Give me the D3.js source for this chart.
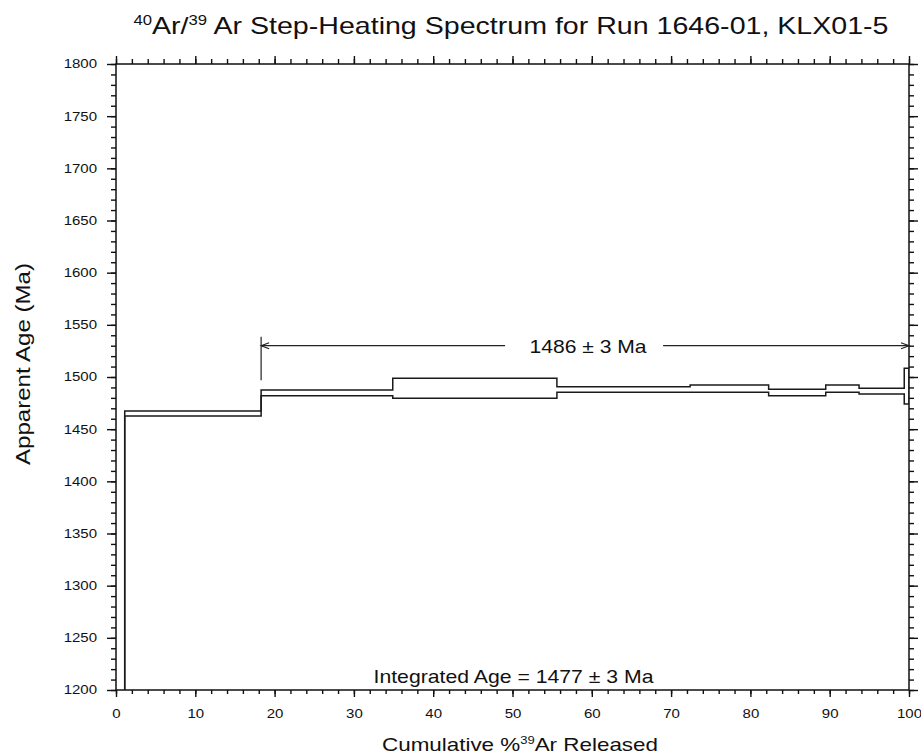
<!DOCTYPE html>
<html>
<head>
<meta charset="utf-8">
<script src="https://cdn.jsdelivr.net/npm/d3@7"></script>
<style>
  body { margin: 0; background: #fff; }
  text { font-family: "Liberation Sans", Arial, Helvetica, sans-serif; fill: #111; }
</style>
</head>
<body>
<div id="chart"></div>
<script>
// cumulative % 39Ar at the step boundaries
var cumBounds = [0, 1.1, 18.3, 34.9, 55.6, 72.4, 82.3, 89.5, 93.7, 99.4, 100];
// apparent age of each step (Ma) and its error (Ma)
var stepAges = [1150, 1465.0, 1484.8, 1489.2, 1488.0, 1488.8, 1485.2, 1488.8, 1486.5, 1491.2];
var stepErrs = [20, 2.4, 2.7, 9.6, 2.7, 3.5, 3.1, 3.5, 2.7, 17.1];

var plateauRange = [18.3, 100];
var plateauLabel = "1486 \u00b1 3 Ma";
var integratedLabel = "Integrated Age = 1477 \u00b1 3 Ma";

var xDomain = [0, 100], yDomain = [1200, 1800];
var xMajor = d3.range(0, 101, 10), xMinor = d3.range(0, 101, 2);
var yMajor = d3.range(1200, 1801, 50), yMinor = d3.range(1200, 1801, 10);

var W = 921, H = 756;
var margin = {top: 64, right: 12, bottom: 66, left: 116},
    width = W - margin.left - margin.right,
    height = H - margin.top - margin.bottom;
var stretch = 1.25;   // tick labels are drawn wide in the original

var svg = d3.select("#chart").append("svg")
    .attr("width", W)
    .attr("height", H);

var g = svg.append("g")
    .attr("transform", "translate(" + margin.left + "," + margin.top + ")");

var x = d3.scaleLinear().domain(xDomain).range([0, width]);
var y = d3.scaleLinear().domain(yDomain).range([height, 0]);

g.append("defs").append("clipPath")
    .attr("id", "clip")
  .append("rect")
    .attr("width", width)
    .attr("height", height);

// axes: minor ticks, then major ticks
function addAxis(axisFn, scale, vals, size, pos, labels) {
  var a = axisFn(scale).tickValues(vals).tickSize(size).tickSizeOuter(0);
  if (!labels) a.tickFormat("");
  else a.tickFormat(d3.format("d"));
  var ag = g.append("g").attr("transform", pos).call(a);
  ag.select(".domain").remove();
  ag.selectAll("line").attr("stroke", "#111").attr("stroke-width", 1.4);
  return ag;
}
var bottomPos = "translate(0," + height + ")", rightPos = "translate(" + width + ",0)";
addAxis(d3.axisBottom, x, xMinor, 4, bottomPos, false);
var xb = addAxis(d3.axisBottom, x, xMajor, 7, bottomPos, true);
addAxis(d3.axisTop, x, xMinor, 5, "", false);
addAxis(d3.axisTop, x, xMajor, 8, "", false);
addAxis(d3.axisLeft, y, yMinor, 5, "", false);
var yl = addAxis(d3.axisLeft, y, yMajor, 9, "", true);
addAxis(d3.axisRight, y, yMinor, 5, rightPos, false);
addAxis(d3.axisRight, y, yMajor, 9, rightPos, false);

xb.selectAll("text")
    .attr("y", 19)
    .attr("font-size", 12)
    .attr("transform", "scale(" + stretch + ",1)");
yl.selectAll("text")
    .attr("x", -19 / stretch)
    .attr("font-size", 12)
    .attr("transform", "scale(" + stretch + ",1)");

g.append("rect")
    .attr("width", width)
    .attr("height", height)
    .attr("fill", "none")
    .attr("stroke", "#111")
    .attr("stroke-width", 1.5);

// step spectrum: upper and lower envelopes
function envelope(sign) {
  var pts = [];
  stepAges.forEach(function(a, i) {
    var v = a + sign * stepErrs[i];
    pts.push([cumBounds[i], v], [cumBounds[i + 1], v]);
  });
  return pts;
}
var line = d3.line()
    .x(function(d) { return x(d[0]); })
    .y(function(d) { return y(d[1]); });

var spec = g.append("g").attr("clip-path", "url(#clip)");
[1, -1].forEach(function(s) {
  spec.append("path")
      .datum(envelope(s))
      .attr("d", line)
      .attr("fill", "none")
      .attr("stroke", "#1a1a1a")
      .attr("stroke-width", 1.5);
});
var last = stepAges.length - 1;
spec.append("path")
    .datum([[100, stepAges[last] + stepErrs[last]], [100, stepAges[last] - stepErrs[last]]])
    .attr("d", line)
    .attr("fill", "none")
    .attr("stroke", "#1a1a1a")
    .attr("stroke-width", 1.5);

// plateau arrow
var arrowAge = 1530;
var ay = y(arrowAge), ax0 = x(plateauRange[0]), ax1 = x(plateauRange[1]);
var midX = (ax0 + ax1) / 2;
var pl = g.append("g").attr("stroke", "#222").attr("stroke-width", 1.2).attr("fill", "none");
pl.append("line").attr("x1", ax0).attr("x2", ax0).attr("y1", y(1538.6)).attr("y2", y(1497));
pl.append("line").attr("x1", ax0).attr("x2", midX - 80).attr("y1", ay).attr("y2", ay);
pl.append("line").attr("x1", midX + 78).attr("x2", ax1).attr("y1", ay).attr("y2", ay);
pl.append("path").attr("d", "M" + (ax0 + 8) + "," + (ay - 3) + "L" + ax0 + "," + ay + "L" + (ax0 + 8) + "," + (ay + 3));
pl.append("path").attr("d", "M" + (ax1 - 8) + "," + (ay - 3) + "L" + ax1 + "," + ay + "L" + (ax1 - 8) + "," + (ay + 3));

g.append("text")
    .attr("x", midX + 3)
    .attr("y", ay + 7)
    .attr("text-anchor", "middle")
    .attr("font-size", 19)
    .attr("textLength", 117)
    .attr("lengthAdjust", "spacingAndGlyphs")
    .text(plateauLabel);

g.append("text")
    .attr("x", x(50) + 1)
    .attr("y", height - 7)
    .attr("text-anchor", "middle")
    .attr("font-size", 19)
    .attr("textLength", 280)
    .attr("lengthAdjust", "spacingAndGlyphs")
    .text(integratedLabel);

// title
var title = svg.append("text")
    .attr("x", 511)
    .attr("y", 34)
    .attr("text-anchor", "middle")
    .attr("font-size", 24)
    .attr("textLength", 755)
    .attr("lengthAdjust", "spacingAndGlyphs");
title.append("tspan").attr("font-size", 14).attr("dy", -9).text("40");
title.append("tspan").attr("dy", 9).text("Ar/");
title.append("tspan").attr("font-size", 14).attr("dy", -9).text("39");
title.append("tspan").attr("dy", 9).text(" Ar Step-Heating Spectrum for Run 1646-01, KLX01-5");

// x label
var xl = svg.append("text")
    .attr("x", 520)
    .attr("y", 751)
    .attr("text-anchor", "middle")
    .attr("font-size", 19)
    .attr("textLength", 276)
    .attr("lengthAdjust", "spacingAndGlyphs");
xl.append("tspan").text("Cumulative %");
xl.append("tspan").attr("font-size", 11).attr("dy", -7).text("39");
xl.append("tspan").attr("dy", 7).text("Ar Released");

// y label
svg.append("text")
    .attr("transform", "translate(30,364) rotate(-90)")
    .attr("text-anchor", "middle")
    .attr("font-size", 21)
    .attr("textLength", 202)
    .attr("lengthAdjust", "spacingAndGlyphs")
    .text("Apparent Age (Ma)");
</script>
</body>
</html>
